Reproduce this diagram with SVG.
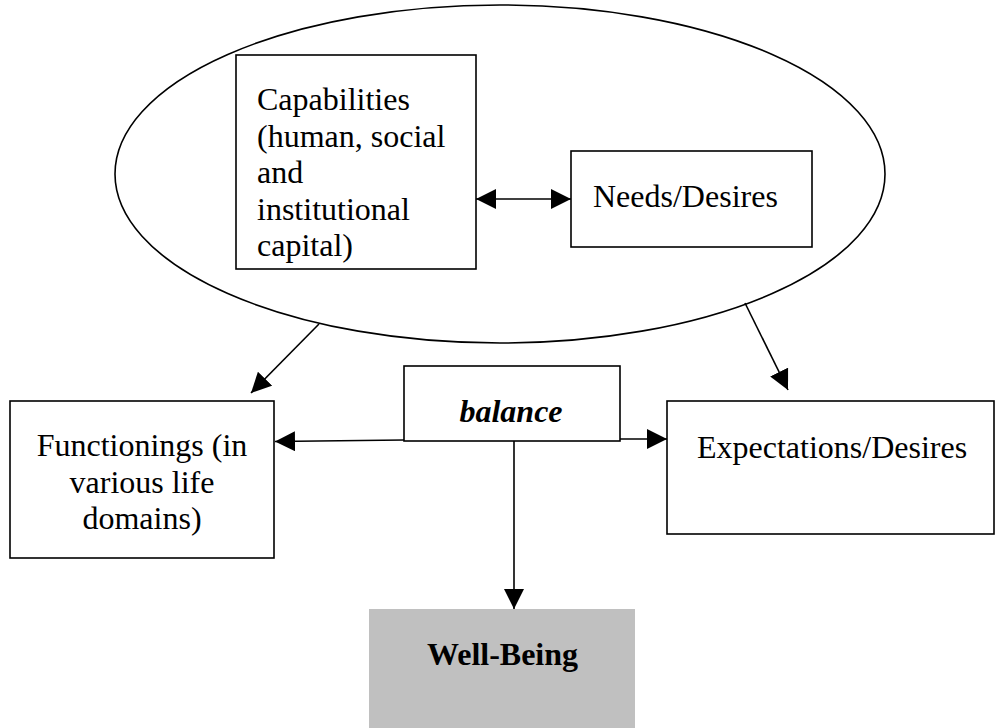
<svg xmlns="http://www.w3.org/2000/svg" width="997" height="728" viewBox="0 0 997 728">
<style>
.box{fill:#fff;stroke:#000;stroke-width:1.6}
.t{font-family:"Liberation Serif","Times New Roman",serif;font-size:32px;fill:#000}
.c{stroke:#000;stroke-width:1.6;fill:none}
</style>
<defs>
<marker id="ah" markerUnits="userSpaceOnUse" markerWidth="20" markerHeight="20" refX="20" refY="10" orient="auto-start-reverse" viewBox="0 0 20 20">
<path d="M0,0 L20,10 L0,20 z" fill="#000"/>
</marker>
</defs>
<rect width="997" height="728" fill="#fff"/>
<g id="ellipse">
<ellipse cx="500" cy="174" rx="385" ry="169" fill="none" stroke="#000" stroke-width="1.6"/>
</g>
<g id="capabilities">
<rect class="box" x="236" y="55" width="240" height="214"/>
<text class="t" x="257" y="110">Capabilities</text>
<text class="t" x="257" y="146.5">(human, social</text>
<text class="t" x="257" y="183">and</text>
<text class="t" x="257" y="219.5">institutional</text>
<text class="t" x="257" y="256">capital)</text>
</g>
<g id="needs">
<rect class="box" x="571" y="151" width="241" height="96"/>
<text class="t" x="593" y="207">Needs/Desires</text>
</g>
<g id="functionings">
<rect class="box" x="10" y="401" width="264" height="157"/>
<text class="t" x="142" y="456" text-anchor="middle">Functionings (in</text>
<text class="t" x="142" y="492.5" text-anchor="middle">various life</text>
<text class="t" x="142" y="529" text-anchor="middle">domains)</text>
</g>
<g id="balance">
<rect class="box" x="404" y="366" width="216" height="75"/>
<text class="t" x="511" y="421.5" text-anchor="middle" font-weight="bold" font-style="italic">balance</text>
</g>
<g id="expectations">
<rect class="box" x="667" y="401" width="327" height="133"/>
<text class="t" x="697" y="458">Expectations/Desires</text>
</g>
<g id="wellbeing">
<rect x="369" y="609" width="266" height="119" fill="#c0c0c0"/>
<text class="t" x="502.5" y="665" text-anchor="middle" font-weight="bold">Well-Being</text>
</g>
<g id="connectors">
<line class="c" x1="476" y1="199" x2="571" y2="199" marker-start="url(#ah)" marker-end="url(#ah)"/>
<line class="c" x1="319" y1="324" x2="251" y2="393" marker-end="url(#ah)"/>
<line class="c" x1="745" y1="303" x2="788" y2="390" marker-end="url(#ah)"/>
<line class="c" x1="404" y1="440" x2="275" y2="441.5" marker-end="url(#ah)"/>
<line class="c" x1="620" y1="439" x2="667" y2="439" marker-end="url(#ah)"/>
<line class="c" x1="514" y1="441" x2="514" y2="609" marker-end="url(#ah)"/>
</g>
</svg>
